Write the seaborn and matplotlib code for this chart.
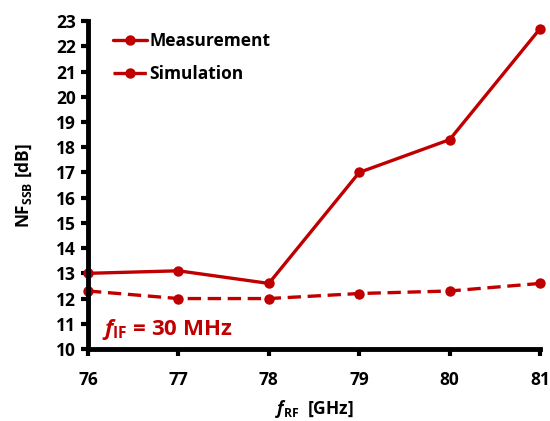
import numpy as np
import pandas as pd
import matplotlib
matplotlib.use("Agg")
import matplotlib.pyplot as plt
import seaborn as sns

# Data
freq_ghz = [76, 77, 78, 79, 80, 81]
nf_measured = [13.0, 13.1, 12.6, 17.0, 18.3, 22.7]
nf_simulated = [12.3, 12.0, 12.0, 12.2, 12.3, 12.6]
y_ticks = list(range(10, 24))

RED = "#C00000"
FONT = 'Open Sans'

sns.set_theme(style="ticks")
plt.rcParams['font.family'] = [FONT, 'DejaVu Sans']
plt.rcParams['font.weight'] = 'bold'
plt.rcParams['mathtext.fontset'] = 'custom'
plt.rcParams['mathtext.rm'] = FONT + ':bold'
plt.rcParams['mathtext.it'] = FONT + ':bold:italic'
plt.rcParams['mathtext.bf'] = FONT + ':bold'
for key in ['text.color', 'axes.labelcolor', 'xtick.color', 'ytick.color']:
    plt.rcParams[key] = 'black'

df = pd.DataFrame({
    'freq': freq_ghz * 2,
    'nf': nf_measured + nf_simulated,
    'series': ['Measurement'] * len(freq_ghz) + ['Simulation'] * len(freq_ghz),
})

fig = plt.figure(figsize=(5.5, 4.21), dpi=100)
ax = fig.add_axes([0.16, 0.171, 0.822, 0.779])

sns.lineplot(data=df, x='freq', y='nf', style='series', ax=ax,
             color=RED, markers={'Measurement': 'o', 'Simulation': 'o'},
             dashes={'Measurement': '', 'Simulation': (4, 2)},
             linewidth=2.4, markersize=7.5, markeredgewidth=0, clip_on=False)

ax.set_xlim(76, 81)
ax.set_ylim(10, 23)
ax.set_xticks(freq_ghz)
ax.set_yticks(y_ticks)
ax.tick_params(axis='both', labelsize=12.5, width=3, length=5, direction='out',
               color='black', labelcolor='black')
for lbl in ax.get_xticklabels() + ax.get_yticklabels():
    lbl.set_fontweight('bold')
ax.tick_params(axis='x', pad=11)

sns.despine(ax=ax)
for side in ['left', 'bottom']:
    ax.spines[side].set_linewidth(3.5)
    ax.spines[side].set_color('black')

ax.set_xlabel(r"$f_{\mathrm{RF}}$  [GHz]", fontsize=12.5, fontweight='bold', labelpad=6)
ax.set_ylabel(r"NF$_{\mathrm{SSB}}$ [dB]", fontsize=12.5, fontweight='bold', labelpad=16)

ax.text(76.15, 10.55, r"$f_{\mathrm{IF}}$ = 30 MHz", color=RED, fontsize=16, fontweight='bold')

leg = ax.legend(loc='upper left', bbox_to_anchor=(0.02, 1.015), frameon=False,
                handlelength=2.0, handletextpad=0.1, labelspacing=0.9,
                prop={'weight': 'bold', 'size': 12.5})
leg.set_title(None)
for t in leg.get_texts():
    t.set_color('black')

fig.savefig("out.png", dpi=100)
